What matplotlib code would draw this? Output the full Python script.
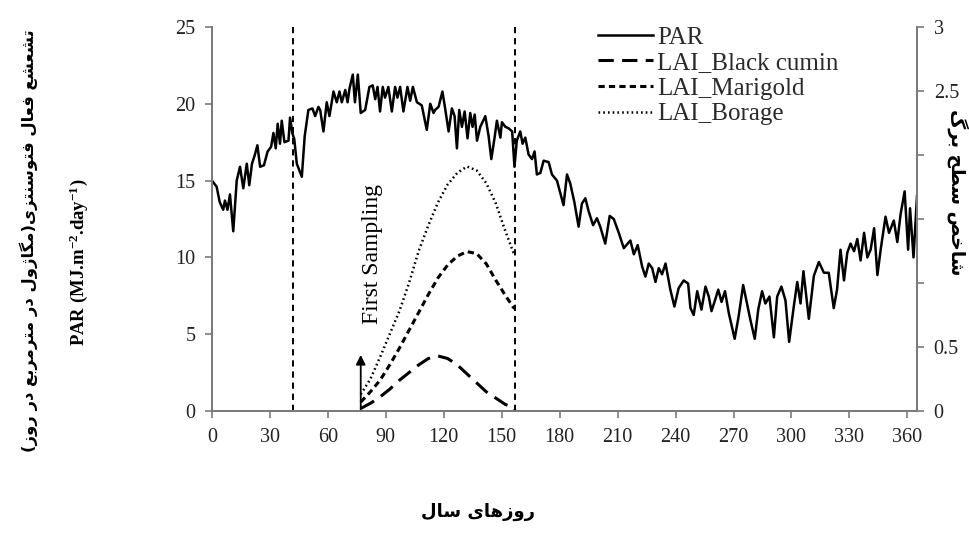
import matplotlib
matplotlib.use("Agg")
from matplotlib import pyplot as plt

plt.rcParams['font.family'] = ['Liberation Serif', 'DejaVu Serif']
plt.rcParams['mathtext.fontset'] = 'custom'
plt.rcParams['mathtext.rm'] = 'Liberation Serif'
plt.rcParams['mathtext.bf'] = 'Liberation Serif:bold'
plt.rcParams['mathtext.it'] = 'Liberation Serif:italic'
plt.rcParams['lines.scale_dashes'] = False

# daily PAR (day of year, MJ m-2 day-1)
days = [0, 2.4, 4, 5.8, 6.7, 8, 9.3, 11, 12.8, 14.5, 16.2, 18, 19.3, 20.7, 22, 23.5, 24.9, 26.9, 28.8,
        30.6, 31.8, 33, 34, 35.2, 36.1, 37.5, 39.6, 40.4, 41.6, 42.6, 43.9, 46.5, 48, 49.9, 52, 53.4,
        55.1, 56, 57.7, 59.4, 60.8, 62.9, 64.6, 66, 67.2, 69, 70.2, 71.2, 72.9, 74, 75.5, 77, 79.3,
        81.5, 83.2, 84.5, 85.7, 87, 88.4, 89.6, 91.3, 93.1, 94.8, 96, 97.4, 99.1, 101.2, 102.6, 104,
        106.1, 108.6, 111.2, 113, 114.7, 115.5, 117.3, 119.3, 120.7, 122.5, 124.2, 125.6, 126.8, 128,
        129.4, 130.8, 132.3, 133.7, 134.9, 136, 137.2, 138.9, 141.5, 143.2, 144.6, 146.3, 147.5, 149.3,
        150.1, 151.9, 153.6, 155.4, 156.6, 157.8, 159.6, 160.8, 162.2, 163.9, 165.7, 167, 168.2, 170,
        171.7, 174.3, 176, 178.6, 180.3, 182, 183.8, 185.5, 187.6, 189.8, 191.5, 193.3, 195, 197.3,
        199.3, 201, 203.6, 205.9, 208, 210.6, 213.2, 216.6, 218.4, 220.4, 222.7, 224.4, 226.1, 227.9,
        229.6, 231.3, 233, 234.8, 237.3, 239.4, 241.6, 244.2, 246.5, 247.7, 249.4, 251.2, 253.4, 255.5,
        257.2, 258.6, 260.4, 262.1, 263.8, 265.6, 267.6, 270.6, 272.7, 275, 277, 278.8, 281, 282.8,
        284.8, 286.5, 288.6, 290.9, 292.6, 294.8, 296.9, 298.8, 301.2, 303, 304.7, 306.2, 309, 311.6,
        314.2, 316.8, 319.3, 321.9, 323.6, 325.4, 327.2, 328.9, 330.6, 332.4, 334.1, 335.8, 337.6,
        339.3, 341, 342.8, 344.5, 346.3, 348.7, 350.5, 353, 354.8, 356.5, 358.6, 360.4, 361.4, 363.2, 365]
par = [15.0, 14.6, 13.6, 13.1, 13.7, 13.1, 14.1, 11.7, 15.0, 15.9, 14.5, 16.1, 14.7, 16.1, 16.6, 17.3, 15.9, 16.0, 16.9,
       17.2, 18.1, 17.1, 18.7, 17.4, 18.9, 17.5, 17.6, 19.1, 18.1, 17.7, 16.1, 15.25, 17.9, 19.6, 19.7, 19.2,
       19.8, 19.6, 18.2, 20.1, 19.2, 20.8, 20.1, 20.8, 20.1, 20.9, 20.1, 21.0, 21.9, 20.1, 21.9, 19.4, 19.6,
       21.1, 21.2, 20.3, 21.1, 19.5, 21.1, 20.4, 21.1, 19.5, 21.1, 20.4, 21.1, 19.5, 21.1, 20.2, 21.1,
       20.1, 19.9, 18.3, 20.0, 19.4, 19.6, 19.8, 20.8, 19.7, 18.2, 19.7, 19.2, 17.1, 19.6,
       18.5, 19.5, 17.75, 19.4, 18.5, 19.3, 17.6, 18.5, 19.2, 17.9, 16.4, 17.8, 18.9, 17.8,
       18.8, 18.5, 18.4, 18.2, 15.9, 17.6, 18.2, 17.4, 17.8, 16.7, 16.4, 16.9, 15.4, 15.5,
       16.3, 16.2, 15.4, 15.0, 14.2, 13.4, 15.4, 14.8, 13.6, 12.0, 13.5, 13.85, 13.0, 12.1,
       12.55, 12.0, 10.9, 12.7, 12.5, 11.6, 10.6, 11.1, 10.2, 10.8, 9.4, 8.75, 9.6, 9.3,
       8.4, 9.3, 8.9, 9.6, 7.9, 6.8, 8.0, 8.5, 8.3, 6.7, 6.25, 7.8, 6.6, 8.1,
       7.45, 6.5, 7.2, 7.9, 7.1, 7.8, 6.35, 4.7, 6.2, 8.2, 7.0, 5.9, 4.7, 6.6,
       7.8, 7.0, 7.45, 4.8, 7.45, 8.1, 7.2, 4.5, 6.8, 8.4, 7.0, 9.1, 6.0, 8.8,
       9.7, 9.0, 9.0, 6.7, 7.9, 10.5, 8.5, 10.3, 10.9, 10.4, 11.2, 9.8, 11.6,
       10.0, 10.5, 11.9, 8.85, 10.6, 12.65, 11.6, 12.4, 11.0, 12.8, 14.3, 10.5, 13.2, 10.0, 14.0]

# leaf area index of the three crops
lai_days = [77, 82, 87, 92, 97, 102, 107, 112, 117, 122, 127, 132, 137, 142, 147, 152, 156, 157]
lai_black_cumin = [0.02, 0.06, 0.11, 0.17, 0.24, 0.30, 0.36, 0.41, 0.43, 0.41, 0.36, 0.29, 0.22, 0.15, 0.10, 0.05, 0.03, 0.0]
lai_marigold = [0.07, 0.15, 0.24, 0.36, 0.49, 0.63, 0.77, 0.91, 1.04, 1.14, 1.21, 1.245, 1.23, 1.15, 1.02, 0.90, 0.81, 0.80]
lai_borage = [0.13, 0.25, 0.42, 0.60, 0.78, 1.00, 1.25, 1.45, 1.63, 1.77, 1.86, 1.91, 1.88, 1.78, 1.62, 1.40, 1.24, 1.22]

sampling_days = [42, 157]
first_sampling_day = 77
first_sampling_top = 3.65

x_ticks = list(range(0, 361, 30))
par_ticks = [0, 5, 10, 15, 20, 25]
lai_ticks = [0, 0.5, 1, 1.5, 2, 2.5, 3]
lai_tick_labels = ['0', '0.5', '', '', '', '2.5', '3']

ylabel_fa = "تشعشع فعال فتوسنتزی(مگاژول در مترمربع در روز)"
ylabel_en = r"PAR (MJ.m$^{\mathbf{-2}}$.day$^{\mathbf{-1}}$)"
y2label_fa = "شاخص سطح برگ"
xlabel_fa = "روزهای سال"

# presentation forms: isolated, final, (initial, medial)
forms = {
    0x0627: (0xFE8D, 0xFE8E),
    0x0628: (0xFE8F, 0xFE90, 0xFE91, 0xFE92),
    0x062A: (0xFE95, 0xFE96, 0xFE97, 0xFE98),
    0x062D: (0xFEA1, 0xFEA2, 0xFEA3, 0xFEA4),
    0x062E: (0xFEA5, 0xFEA6, 0xFEA7, 0xFEA8),
    0x062F: (0xFEA9, 0xFEAA),
    0x0631: (0xFEAD, 0xFEAE),
    0x0632: (0xFEAF, 0xFEB0),
    0x0633: (0xFEB1, 0xFEB2, 0xFEB3, 0xFEB4),
    0x0634: (0xFEB5, 0xFEB6, 0xFEB7, 0xFEB8),
    0x0635: (0xFEB9, 0xFEBA, 0xFEBB, 0xFEBC),
    0x0637: (0xFEC1, 0xFEC2, 0xFEC3, 0xFEC4),
    0x0639: (0xFEC9, 0xFECA, 0xFECB, 0xFECC),
    0x0641: (0xFED1, 0xFED2, 0xFED3, 0xFED4),
    0x0644: (0xFEDD, 0xFEDE, 0xFEDF, 0xFEE0),
    0x0645: (0xFEE1, 0xFEE2, 0xFEE3, 0xFEE4),
    0x0646: (0xFEE5, 0xFEE6, 0xFEE7, 0xFEE8),
    0x0647: (0xFEE9, 0xFEEA, 0xFEEB, 0xFEEC),
    0x0648: (0xFEED, 0xFEEE),
    0x0698: (0xFB8A, 0xFB8B),
    0x06AF: (0xFB92, 0xFB93, 0xFB94, 0xFB95),
    0x06CC: (0xFBFC, 0xFBFD, 0xFBFE, 0xFBFF),
}


def shape(text):
    # matplotlib does no arabic shaping, so pick the joined forms and reverse by hand
    out = []
    for i, ch in enumerate(text):
        f = forms.get(ord(ch))
        if f is None:
            out.append({'(': ')', ')': '('}.get(ch, ch))
            continue
        prev = forms.get(ord(text[i - 1])) if i > 0 else None
        nxt = forms.get(ord(text[i + 1])) if i + 1 < len(text) else None
        join_prev = prev is not None and len(prev) == 4
        join_next = nxt is not None and len(f) == 4
        if join_prev and join_next:
            c = f[3]
        elif join_prev:
            c = f[1]
        elif join_next:
            c = f[2]
        else:
            c = f[0]
        out.append(chr(c))
    return ''.join(reversed(out))


fa_font = ['DejaVu Sans', 'Noto Sans']
spine_col = '#7a7a7a'

fig = plt.figure(figsize=(9.7, 5.44), dpi=100)
ax = fig.add_axes([212 / 970, 1 - 411 / 544, 705 / 970, 384 / 544])
ax2 = ax.twinx()

l_par, = ax.plot(days, par, color='black', lw=1.8, label='PAR')
for d in sampling_days:
    ax.axvline(d, color='black', lw=1.4, dashes=(4.5, 3.5))
ax.annotate('', xy=(first_sampling_day, first_sampling_top), xytext=(first_sampling_day, 0),
            arrowprops=dict(arrowstyle='-|>', color='black', lw=1.3, mutation_scale=14, shrinkA=0, shrinkB=0))
ax.text(83, 10.2, 'First Sampling', rotation=90, ha='center', va='center', fontsize=17)

l_bc, = ax2.plot(lai_days, lai_black_cumin, color='black', lw=2.2, dashes=(11, 6), label='LAI_Black cumin')
l_mg, = ax2.plot(lai_days, lai_marigold, color='black', lw=2.2, dashes=(4.5, 3), label='LAI_Marigold')
l_bo, = ax2.plot(lai_days, lai_borage, color='black', lw=1.8, dashes=(1.2, 2.2), label='LAI_Borage')

ax.set_xlim(0, 365)
ax.set_ylim(0, 25)
ax2.set_ylim(0, 3)
ax.set_xticks(x_ticks)
ax.set_yticks(par_ticks)
ax2.set_yticks(lai_ticks)
ax2.set_yticklabels(lai_tick_labels)

for a in (ax, ax2):
    a.spines['top'].set_visible(False)
    for s in a.spines.values():
        s.set_color(spine_col)
        s.set_linewidth(1.3)
    a.tick_params(direction='out', length=5, width=1.2, color=spine_col, labelsize=14.5,
                  labelcolor='#222222', pad=7)

leg = ax2.legend(handles=[l_par, l_bc, l_mg, l_bo], loc='upper left',
                 bbox_to_anchor=(598 / 970, 1 - 26 / 544), bbox_transform=fig.transFigure,
                 frameon=False, fontsize=18, handlelength=2.2, handletextpad=0.15,
                 labelspacing=0.125, borderpad=0, borderaxespad=0)
for t in leg.get_texts():
    t.set_color('#2a2a2a')

fig.text(29 / 970, 1 - 241 / 544, shape(ylabel_fa), rotation=90, ha='center', va='center',
         family=fa_font, fontweight='bold', fontsize=11.8)
fig.text(79 / 970, 1 - 262 / 544, ylabel_en, rotation=90, ha='center', va='center',
         fontweight='bold', fontsize=13.5)
fig.text(958 / 970, 1 - 192 / 544, shape(y2label_fa), rotation=270, ha='center', va='center',
         family=fa_font, fontweight='bold', fontsize=13.5)
fig.text(478 / 970, 1 - 512 / 544, shape(xlabel_fa), ha='center', va='center',
         family=fa_font, fontweight='bold', fontsize=13)

fig.savefig('out.png', dpi=100)
